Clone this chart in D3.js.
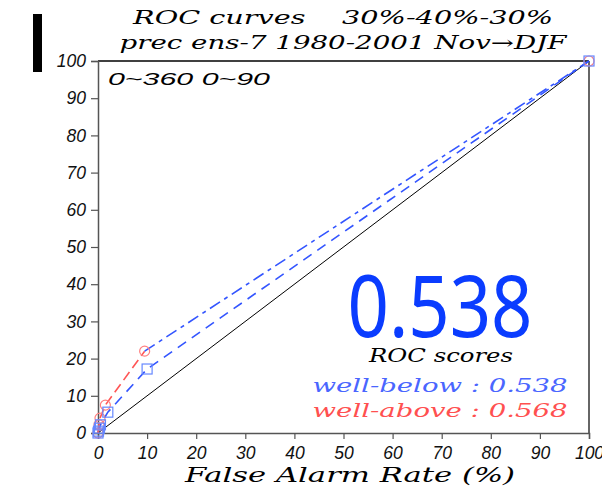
<!DOCTYPE html>
<html><head><meta charset="utf-8">
<script src="https://cdn.jsdelivr.net/npm/d3@7"></script>
<style>body{margin:0;background:#fff}svg{display:block}text{white-space:pre}</style>
</head><body>
<script>
const xTicks = [0,10,20,30,40,50,60,70,80,90,100];
const yTicks = [0,10,20,30,40,50,60,70,80,90,100];
const farBelow = [0, 0.1, 0.3, 0.5, 2, 10, 100];
const hitBelow = [0, 0.5, 1.3, 2.2, 5.6, 17.2, 100];
const farAbove = [0, 0.2, 0.4, 1.5, 9.5, 100];
const hitAbove = [0, 2.2, 4, 7.5, 22, 100];
const titleLines = ["ROC curves    30%-40%-30%", "prec ens-7 1980-2001 Nov\u2192DJF"];
const scoreNames = ["well-below : 0.538", "well-above : 0.568"];
const bigScore = "0.538";

const W = 602, H = 488;
const svg = d3.select("body").append("svg").attr("width", W).attr("height", H);
const x = d3.scaleLinear().domain([0,100]).range([98,589]);
const y = d3.scaleLinear().domain([0,100]).range([433,61]);
const BLUE = "#3355ff", RED = "#ff5555";
const serif = "'DejaVu Serif', serif";
const sans = "'Liberation Sans', Arial, sans-serif";

// black bar
svg.append("rect").attr("x",33).attr("y",14).attr("width",9).attr("height",58).attr("fill","#000");

// titles
svg.append("text").attr("x",343).attr("y",24).attr("text-anchor","middle").attr("xml:space","preserve")
  .attr("font-family",serif).attr("font-style","italic").attr("font-size",18)
  .attr("textLength",420).attr("lengthAdjust","spacingAndGlyphs").text(titleLines[0]);
svg.append("text").attr("x",343).attr("y",49).attr("text-anchor","middle")
  .attr("font-family",serif).attr("font-style","italic").attr("font-size",18)
  .attr("textLength",447).attr("lengthAdjust","spacingAndGlyphs").text(titleLines[1]);

// frame
svg.append("line").attr("x1",x(0)).attr("x2",x(100)).attr("y1",y(100)).attr("y2",y(100)).attr("stroke","#000").attr("stroke-width",1.5);
svg.append("line").attr("x1",x(100)).attr("x2",x(100)).attr("y1",y(100)).attr("y2",y(0)).attr("stroke","#333").attr("stroke-width",1.5);

// axes
const yAxis = d3.axisLeft(y).tickValues(yTicks).tickSize(7).tickPadding(4);
const gy = svg.append("g").attr("transform",`translate(${x(0)},0)`).call(yAxis);
const xAxis = d3.axisBottom(x).tickValues(xTicks).tickSize(6).tickPadding(7);
const gx = svg.append("g").attr("transform",`translate(0,${y(0)})`).call(xAxis);
[gx,gy].forEach(g=>{
  g.select(".domain").attr("stroke","#555").attr("stroke-width",1.5);
  g.selectAll(".tick line").attr("stroke","#555").attr("stroke-width",1.2);
  g.selectAll(".tick text").attr("font-family",sans).attr("font-style","italic")
    .attr("font-size",17.5).attr("fill","#111");
});
gy.selectAll(".tick text").attr("dx","-1");
gx.selectAll(".tick text").attr("dy","0.72em");

// axis label
svg.append("text").attr("x",350).attr("y",482).attr("text-anchor","middle")
  .attr("font-family",serif).attr("font-style","italic").attr("font-size",20)
  .attr("textLength",330).attr("lengthAdjust","spacingAndGlyphs").text("False Alarm Rate (%)");

// region label
svg.append("text").attr("x",108).attr("y",85)
  .attr("font-family",sans).attr("font-style","italic").attr("font-size",17)
  .attr("textLength",162).attr("lengthAdjust","spacingAndGlyphs").text("0~360 0~90");

// diagonal
svg.append("line").attr("x1",x(0)).attr("y1",y(0)).attr("x2",x(100)).attr("y2",y(100))
  .attr("stroke","#000").attr("stroke-width",1);

const line = d3.line().x(d=>x(d[0])).y(d=>y(d[1]));
const below = farBelow.map((f,i)=>[f,hitBelow[i]]);
const above = farAbove.map((f,i)=>[f,hitAbove[i]]);

// below curve
svg.append("path").attr("d",line(below)).attr("fill","none").attr("stroke",BLUE)
  .attr("stroke-width",1.6).attr("stroke-dasharray","10,7");
// above curve: red first part, blue dash-dot last segment
svg.append("path").attr("d",line(above.slice(0,above.length-1))).attr("fill","none").attr("stroke",RED)
  .attr("stroke-width",1.6).attr("stroke-dasharray","10,5");
svg.append("path").attr("d",line(above.slice(above.length-2))).attr("fill","none").attr("stroke",BLUE)
  .attr("stroke-width",1.6).attr("stroke-dasharray","12,5,4,5");

// markers
svg.selectAll("circle.a").data(above).enter().append("circle")
  .attr("cx",d=>x(d[0])).attr("cy",d=>y(d[1])).attr("r",5)
  .attr("fill","none").attr("stroke","#ff8080").attr("stroke-width",1.2);
svg.selectAll("rect.b").data(below).enter().append("rect")
  .attr("x",d=>x(d[0])-5).attr("y",d=>y(d[1])-5).attr("width",10).attr("height",10)
  .attr("fill","none").attr("stroke","#6688ff").attr("stroke-width",1.2);

// big score
svg.append("text").attr("x",440).attr("y",337).attr("text-anchor","middle")
  .attr("font-family","'Noto Sans', sans-serif").attr("font-size",86).attr("fill","#0a3cff")
  .attr("textLength",185).attr("lengthAdjust","spacingAndGlyphs").text(bigScore);
svg.append("text").attr("x",441).attr("y",362).attr("text-anchor","middle")
  .attr("font-family",serif).attr("font-style","italic").attr("font-size",18)
  .attr("textLength",144).attr("lengthAdjust","spacingAndGlyphs").text("ROC scores");
svg.append("text").attr("x",440).attr("y",392).attr("text-anchor","middle")
  .attr("font-family",serif).attr("font-style","italic").attr("font-size",18).attr("fill","#4a66ff")
  .attr("textLength",255).attr("lengthAdjust","spacingAndGlyphs").text(scoreNames[0]);
svg.append("text").attr("x",440).attr("y",417).attr("text-anchor","middle")
  .attr("font-family",serif).attr("font-style","italic").attr("font-size",18).attr("fill","#ff5050")
  .attr("textLength",255).attr("lengthAdjust","spacingAndGlyphs").text(scoreNames[1]);
</script>
</body></html>
